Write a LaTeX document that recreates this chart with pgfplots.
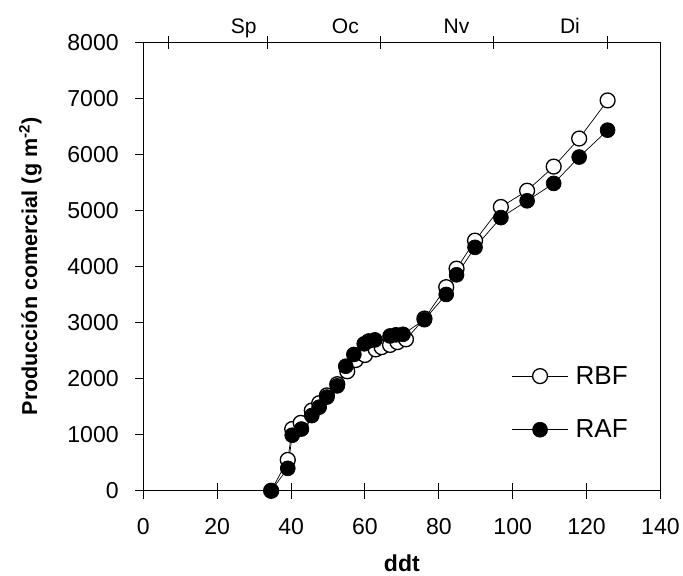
\documentclass[border=0pt]{standalone}
\usepackage{fontspec}
\setmainfont{Liberation Sans}
\usepackage{pgfplots}
\usepackage{pgfplotstable}
\pgfplotsset{compat=1.18}

% Produccion comercial, tratamiento RBF (circulos abiertos)
\pgfplotstableread{
ddt   prod
34.6  0
39.1  550
40.3  1100
42.6  1210
45.6  1430
47.6  1560
49.7  1700
52.5  1900
55.2  2130
57.5  2330
60.0  2420
62.9  2520
64.5  2560
66.8  2600
68.8  2650
71.1  2700
76.1  3070
82.0  3630
84.8  3960
89.8  4460
96.8  5060
103.9 5350
111.1 5780
118.0 6280
125.7 6960
}\rbf

% tratamiento RAF (circulos llenos)
\pgfplotstableread{
ddt   prod
34.6  0
39.1  400
40.3  990
42.8  1100
45.6  1340
47.6  1490
49.7  1670
52.5  1870
54.8  2220
57.0  2430
59.8  2620
61.0  2670
62.7  2690
66.8  2760
68.4  2780
70.3  2790
76.1  3050
82.0  3500
84.8  3850
89.8  4340
96.8  4870
103.9 5170
111.1 5480
118.0 5950
125.7 6430
}\raf

\pgfplotsset{
  base/.style={
    scale only axis, width=514bp, height=446bp,
    xmin=0, xmax=140, ymin=0, ymax=8000,
    axis line style={line width=1.1bp},
    every tick/.style={black, line width=1bp},
    /pgf/number format/assume math mode=true,
    ticklabel style={font=\fontsize{23}{27}\selectfont},
  },
}

\begin{document}
\begin{tikzpicture}
% main axis: data, box, y ticks
\begin{axis}[
    base,
    xtick=\empty,
    ytick={0,1000,...,8000},
    ytick pos=left,
    tick align=outside,
    major tick length=8bp,
    yticklabel style={xshift=-13bp,
        /pgf/number format/.cd, set thousands separator={}},
    ylabel={\bfseries Producción comercial (g m\textsuperscript{-2})},
    ylabel style={font=\fontsize{21.5}{25}\selectfont, inner ysep=19bp, yshift=3bp},
    legend cell align=left,
    legend style={
        at={(rel axis cs:0.70,0.30)}, anchor=north west,
        draw=none, fill=white,
        font=\fontsize{26}{30}\selectfont,
        row sep=30bp, inner xsep=6bp, inner ysep=8bp,
        nodes={inner xsep=7bp},
    },
    legend image code/.code={
        \draw[#1, mark repeat=2, mark phase=2]
            plot coordinates {(0bp,0bp) (28bp,0bp) (56bp,0bp)};
    },
]
\addplot[black, line width=0.7bp, mark=*, mark size=7.4bp,
    mark options={fill=white, draw=black, line width=1.3bp}]
    table[x=ddt, y=prod] {\rbf};
\addplot[black, line width=0.7bp, mark=*, mark size=7.4bp,
    mark options={fill=black, draw=black}]
    table[x=ddt, y=prod] {\raf};
\legend{RBF, RAF}
\end{axis}

% bottom x axis with ticks crossing the line
\begin{axis}[
    base,
    axis y line=none,
    axis x line*=bottom,
    xtick={0,20,...,140},
    tick align=center,
    major tick length=16bp,
    xticklabel style={yshift=-16bp},
    xlabel={\bfseries ddt},
    xlabel style={font=\fontsize{23}{27}\selectfont, yshift=-12bp, inner ysep=4bp},
]
\end{axis}

% top axis: month boundaries
\begin{axis}[
    base,
    axis y line=none,
    axis x line*=top,
    xtick={6.9,33.5,64.2,94.7,125.6},
    xticklabels={},
    tick align=center,
    major tick length=13bp,
]
\end{axis}

% top axis: month names
\begin{axis}[
    base,
    axis y line=none,
    axis x line*=top,
    xtick={27.2,54.7,84.8,115.5},
    xticklabels={Sp,Oc,Nv,Di},
    x tick style={draw=none},
    xticklabel style={font=\fontsize{21}{24}\selectfont,
        text height=30bp, text depth=5bp},
]
\end{axis}
\end{tikzpicture}
\end{document}
